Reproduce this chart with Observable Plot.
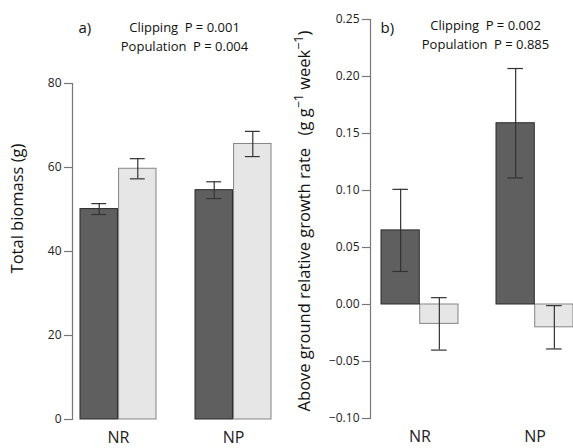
<!DOCTYPE html>
<html><head><meta charset="utf-8">
<script src="https://cdn.jsdelivr.net/npm/d3@7"></script>
<script src="https://cdn.jsdelivr.net/npm/@observablehq/plot@0.6"></script>
<style>
body{margin:0;background:#fff;overflow:hidden}
#wrap{position:relative;width:573px;height:448px;font-family:"Open Sans",sans-serif}
#wrap > svg{position:absolute;top:0}
</style></head><body><div id="wrap"></div>
<script>
// ---- data ----
const groups = ["NR", "NP"];
const treatments = ["Clipped", "Unclipped"];
const biomassClipped = [50.1, 54.6];
const biomassClippedSE = [1.3, 2.0];
const biomassUnclipped = [59.7, 65.6];
const biomassUnclippedSE = [2.4, 3.0];
const rgrClipped = [0.065, 0.159];
const rgrClippedSE = [0.036, 0.048];
const rgrUnclipped = [-0.017, -0.020];
const rgrUnclippedSE = [0.023, 0.019];
const ticksA = [0, 20, 40, 60, 80];
const ticksB = [-0.10, -0.05, 0.00, 0.05, 0.10, 0.15, 0.20, 0.25];
const labelA = "Total biomass (g)";
// label B parts: [text, isSuperscript]
const labelBParts = [["Above ground relative growth rate\u2002 (g g", false], ["\u22121", true], [" week", false], ["\u22121", true], [")", false]];
const labelB = labelBParts.map(p => p[0]).join("");
const panelA = "a)", panelB = "b)";
const statsA = ["Clipping\u2002P = 0.001", "Population\u2002P = 0.004"];
const statsB = ["Clipping\u2002P = 0.002", "Population\u2002P = 0.885"];

function rows(vals, ses, t) { return groups.map((g, i) => ({group: g, treatment: t, value: vals[i], se: ses[i]})); }

function panel(o) {
  const n = groups.length;
  const step = (o.W - o.mL - o.mR) / (n - o.pi + 2 * o.po);
  const bw = step * (1 - o.pi);
  const cap = 8;
  const dark = rows(o.c, o.cse, treatments[0]);
  const light = rows(o.u, o.use, treatments[1]);
  const errStyle = {stroke: "#333", strokeWidth: 1.2};
  return Plot.plot({
    width: o.W, height: 448,
    marginLeft: o.mL, marginRight: o.mR, marginTop: o.mT, marginBottom: o.mB,
    style: {fontFamily: "Open Sans, sans-serif", background: "transparent", color: "#222"},
    x: {domain: groups, paddingInner: o.pi, paddingOuter: o.po, align: o.align},
    y: {domain: o.yDomain},
    marks: [
      Plot.frame({anchor: "left", stroke: "#777", strokeWidth: 1.2}),
      Plot.axisY({ticks: o.ticks, tickSize: 8, tickPadding: 3, tickFormat: o.fmt, fontSize: 12, stroke: "#777", strokeWidth: 1.2, label: null}),
      Plot.axisX({tickSize: 0, tickPadding: 12, fontSize: 16, label: null}),
      Plot.barY(light, {x: "group", y: "value", fill: "#e6e6e6", stroke: "#858585", insetLeft: bw / 2}),
      Plot.barY(dark, {x: "group", y: "value", fill: "#5f5f5f", stroke: "#2a2a2a", insetRight: bw / 2}),
      Plot.ruleX(dark, {x: "group", y1: d => d.value - d.se, y2: d => d.value + d.se, dx: -bw / 4, ...errStyle}),
      Plot.tickY(dark, {x: "group", y: d => d.value + d.se, insetLeft: bw / 4 - cap, insetRight: 3 * bw / 4 - cap, ...errStyle}),
      Plot.tickY(dark, {x: "group", y: d => d.value - d.se, insetLeft: bw / 4 - cap, insetRight: 3 * bw / 4 - cap, ...errStyle}),
      Plot.ruleX(light, {x: "group", y1: d => d.value - d.se, y2: d => d.value + d.se, dx: bw / 4, ...errStyle}),
      Plot.tickY(light, {x: "group", y: d => d.value + d.se, insetLeft: 3 * bw / 4 - cap, insetRight: bw / 4 - cap, ...errStyle}),
      Plot.tickY(light, {x: "group", y: d => d.value - d.se, insetLeft: 3 * bw / 4 - cap, insetRight: bw / 4 - cap, ...errStyle}),
      Plot.text([o.panel], {frameAnchor: "top-left", textAnchor: "start", lineAnchor: "middle", dx: o.pdx, dy: o.pdy, fontSize: 15, fill: "#111"}),
      Plot.text([o.stats[0]], {frameAnchor: "top-left", textAnchor: "middle", lineAnchor: "middle", dx: o.sdx, dy: o.sdy, fontSize: 13, fill: "#111"}),
      Plot.text([o.stats[1]], {frameAnchor: "top-left", textAnchor: "middle", lineAnchor: "middle", dx: o.sdx, dy: o.sdy + 19, fontSize: 13, fill: "#111"}),
      Plot.text([o.label], {frameAnchor: "left", rotate: -90, textAnchor: "middle", lineAnchor: "middle", dx: o.ldx, dy: o.ldy, fontSize: 16.5, fill: "#111"})
    ]
  });
}

const fmt2 = d3.format(".2f");
const a = panel({
  W: 283, mL: 72, mR: 4, mT: 83, mB: 29, pi: 0.335, po: 0.06, align: 0.5,
  yDomain: [0, 80], ticks: ticksA, fmt: d3.format("d"),
  c: biomassClipped, cse: biomassClippedSE, u: biomassUnclipped, use: biomassUnclippedSE,
  panel: panelA, pdx: 6, pdy: -55, stats: statsA, sdx: 112, sdy: -56,
  label: labelA, ldx: -55, ldy: -43
});
const b = panel({
  W: 290, mL: 87, mR: 0, mT: 19, mB: 30, pi: 0.33, po: 0.0433, align: 1,
  yDomain: [-0.10, 0.25], ticks: ticksB, fmt: fmt2,
  c: rgrClipped, cse: rgrClippedSE, u: rgrUnclipped, use: rgrUnclippedSE,
  panel: panelB, pdx: 10, pdy: 9, stats: statsB, sdx: 115, sdy: 6,
  label: labelB, ldx: -66, ldy: 2
});
// rich text (superscripts) for panel b y label
d3.select(b).selectAll("text").filter(function () { return this.textContent === labelB; }).each(function () {
  const t = d3.select(this);
  t.text(null);
  let up = false;
  labelBParts.forEach(([s, sup]) => {
    const ts = t.append("tspan").text(s);
    if (sup) { ts.attr("font-size", 12.5).attr("dy", up ? 0 : -7); up = true; }
    else { ts.attr("dy", up ? 7 : 0); up = false; }
  });
});
a.style.left = "0px";
b.style.left = "283px";
document.getElementById("wrap").append(a, b);
</script></body></html>
